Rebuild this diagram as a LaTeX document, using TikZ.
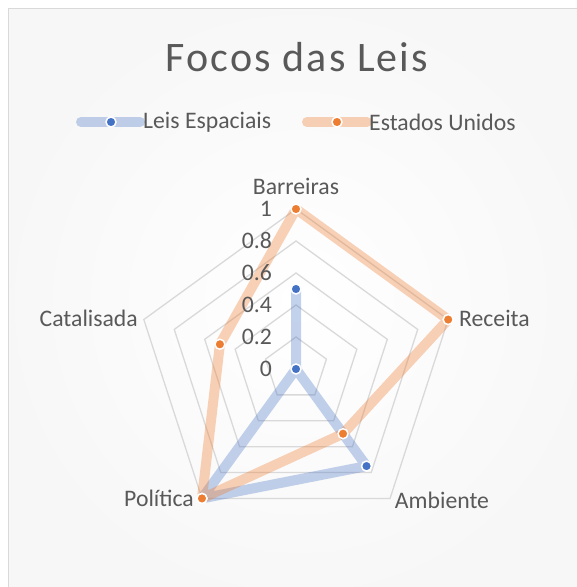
\documentclass[tikz,border=0pt]{standalone}
\usepackage{fontspec}
\setmainfont{Carlito}
\definecolor{txtgray}{HTML}{595959}
\definecolor{gridgray}{HTML}{D9D9D9}
\definecolor{serblue}{HTML}{4472C4}
\definecolor{serorange}{HTML}{ED7D31}
\tikzset{
  gridline/.style={draw=gridgray,line width=1.3pt},
  lineA/.style={draw=serblue,draw opacity=0.32,line width=10pt,line join=round,line cap=round},
  lineB/.style={draw=serorange,draw opacity=0.35,line width=10pt,line join=round,line cap=round},
  markA/.style={circle,fill=serblue,draw=white,line width=1.5pt,inner sep=0pt,minimum size=10pt},
  markB/.style={circle,fill=serorange,draw=white,line width=1.5pt,inner sep=0pt,minimum size=10pt},
  catlabel/.style={text=txtgray,font=\fontsize{23.7}{28}\selectfont,inner sep=0pt},
  ticklabel/.style={text=txtgray,font=\fontsize{23.7}{28}\selectfont,inner sep=0pt,anchor=east},
  legtext/.style={text=txtgray,font=\fontsize{23.7}{28}\selectfont,inner sep=0pt,anchor=west}
}
\begin{document}
\begin{tikzpicture}[x=1pt,y=1pt]
\useasboundingbox (0,0) rectangle (577,587);
% chart area
\shade[inner color=white,outer color=gray!6] (8.5,-10) rectangle (590,578.5);
\draw[gray!30,line width=1.5pt] (8.5,-10) rectangle (590,578.5);
% title and legend
\node[text=txtgray,font=\fontsize{42}{48}\selectfont\addfontfeatures{LetterSpace=5},inner sep=0pt] (title) at (297,530) {Focos das Leis};
\coordinate (legA1) at (81,465);
\coordinate (legA2) at (140,465);
\coordinate (legB1) at (307,465);
\coordinate (legB2) at (367,465);
\draw[lineA] (legA1) -- (legA2);
\draw[lineB] (legB1) -- (legB2);
\node[markA] (legAm) at (111,465) {};
\node[markB] (legBm) at (337,465) {};
\node[legtext] (legAt) at (143,465) {Leis Espaciais};
\node[legtext] (legBt) at (369,465) {Estados Unidos};
\begin{scope}[shift={(296,218)}]
% grid
\foreach \r in {32,64,96,128,160}
  \draw[gridline] (90:\r) -- (18:\r) -- (-54:\r) -- (-126:\r) -- (162:\r) -- cycle;
% data points
\node[markA] (aBar) at (90:80) {};
\node[markA] (aRec) at (18:0) {};
\node[markA] (aAmb) at (-54:120) {};
\node[markA] (aPol) at (-126:160) {};
\node[markA] (aCat) at (162:0) {};
\node[markB] (bBar) at (90:160) {};
\node[markB] (bRec) at (18:160) {};
\node[markB] (bAmb) at (-54:80) {};
\node[markB] (bPol) at (-126:160) {};
\node[markB] (bCat) at (162:80) {};
\draw[lineA] (aBar.center) -- (aRec.center) -- (aAmb.center) -- (aPol.center) -- (aCat.center) -- cycle;
\draw[lineB] (bBar.center) -- (bRec.center) -- (bAmb.center) -- (bPol.center) -- (bCat.center) -- cycle;
\node[markA] at (aBar) {};
\node[markA] at (aRec) {};
\node[markA] at (aAmb) {};
\node[markA] at (aPol) {};
\node[markB] at (bBar) {};
\node[markB] at (bRec) {};
\node[markB] at (bAmb) {};
\node[markB] at (bPol) {};
\node[markB] at (bCat) {};
% axis values
\node[ticklabel] (t0) at (-24,0) {0};
\node[ticklabel] (t2) at (-24,32) {0.2};
\node[ticklabel] (t4) at (-24,64) {0.4};
\node[ticklabel] (t6) at (-24,96) {0.6};
\node[ticklabel] (t8) at (-24,128) {0.8};
\node[ticklabel] (t10) at (-24,160) {1};
\end{scope}
% categories
\node[catlabel] (barreiras) at (296,401) {Barreiras};
\node[catlabel,anchor=west] (receita) at (459,269) {Receita};
\node[catlabel] (ambiente) at (442,87) {Ambiente};
\node[catlabel] (politica) at (159,89) {Política};
\node[catlabel,anchor=east] (catalisada) at (138,269) {Catalisada};
\end{tikzpicture}
\end{document}
